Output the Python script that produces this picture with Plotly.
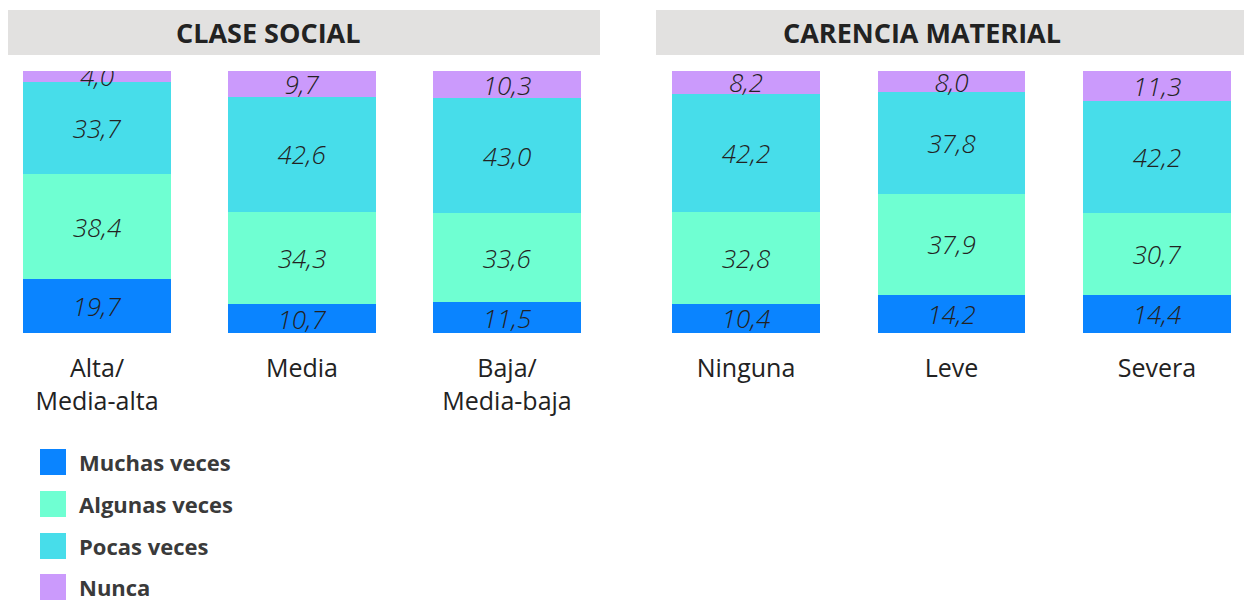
import plotly.graph_objects as go

# ---- data ----
panel_titles = ["CLASE SOCIAL", "CARENCIA MATERIAL"]
cats_clase = ["Alta/<br>Media-alta", "Media", "Baja/<br>Media-baja"]
cats_carencia = ["Ninguna", "Leve", "Severa"]
series = ["Muchas veces", "Algunas veces", "Pocas veces", "Nunca"]
colors = ["#0A84FF", "#6FFFD2", "#47DDEA", "#CB9AFC"]

clase_muchas = [19.7, 10.7, 11.5]
clase_algunas = [38.4, 34.3, 33.6]
clase_pocas = [33.7, 42.6, 43.0]
clase_nunca = [4.0, 9.7, 10.3]

carencia_muchas = [10.4, 14.2, 14.4]
carencia_algunas = [32.8, 37.9, 30.7]
carencia_pocas = [42.2, 37.8, 42.2]
carencia_nunca = [8.2, 8.0, 11.3]

panels = [
    (cats_clase, [clase_muchas, clase_algunas, clase_pocas, clase_nunca]),
    (cats_carencia, [carencia_muchas, carencia_algunas, carencia_pocas, carencia_nunca]),
]

W, H = 1244, 603
TXT = "#222222"
FONT = "Open Sans"


def px(x):
    return min(max(x / W, 0), 1)


def py(y):
    return min(max(1 - y / H, 0), 1)


fig = go.Figure()
for p, (cats, vals) in enumerate(panels):
    xa = "x" if p == 0 else "x2"
    ya = "y" if p == 0 else "y2"
    for s, name in enumerate(series):
        fig.add_trace(go.Bar(
            x=list(range(len(cats))), y=vals[s], name=name,
            marker=dict(color=colors[s], line=dict(width=0)),
            width=0.72,
            text=vals[s], texttemplate="%{text:.1f}",
            textposition="inside", insidetextanchor="middle",
            textangle=0, constraintext="none",
            textfont=dict(family=FONT, size=26, color=TXT, style="italic", weight=300),
            xaxis=xa, yaxis=ya, showlegend=False, hoverinfo="skip",
        ))

R0, R1 = -0.42, 2.42
ydom = [py(333), py(71)]
axis_common = dict(showgrid=False, zeroline=False, showline=False, ticks="",
                   tickfont=dict(family=FONT, size=25, color=TXT),
                   ticklabelstandoff=18, fixedrange=True)
fig.update_layout(
    width=W, height=H,
    margin=dict(l=0, r=0, t=0, b=0),
    paper_bgcolor="white", plot_bgcolor="white",
    barmode="stack", barnorm="percent",
    separators=",.",
    uniformtext=dict(minsize=26, mode="show"),
    xaxis=dict(domain=[px(97 + R0 * 205), px(97 + R1 * 205)], range=[R0, R1],
               tickvals=list(range(3)), ticktext=cats_clase, anchor="y", **axis_common),
    xaxis2=dict(domain=[px(746 + R0 * 205.5), px(746 + R1 * 205.5)], range=[R0, R1],
                tickvals=list(range(3)), ticktext=cats_carencia, anchor="y2", **axis_common),
    yaxis=dict(domain=ydom, range=[0, 100], visible=False, anchor="x", fixedrange=True),
    yaxis2=dict(domain=ydom, range=[0, 100], visible=False, anchor="x2", fixedrange=True),
    showlegend=False,
)

# panel headers
boxes = [(8, 600, 268), (656, 1244, 922)]
for (x0, x1, xc), title in zip(boxes, panel_titles):
    fig.add_shape(type="rect", xref="paper", yref="paper",
                  x0=px(x0), x1=px(x1), y0=py(55), y1=py(10),
                  fillcolor="#E2E1E0", line=dict(width=0), layer="below")
    fig.add_annotation(xref="paper", yref="paper", x=px(xc), y=py(33),
                       text=title, showarrow=False, xanchor="center", yanchor="middle",
                       font=dict(family=FONT, size=27, color=TXT, weight="bold"))

# legend
leg_y = [462, 504, 546, 587]
for name, col, yy in zip(series, colors, leg_y):
    fig.add_shape(type="rect", xref="paper", yref="paper",
                  x0=px(40), x1=px(66), y0=py(yy + 13), y1=py(yy - 13),
                  fillcolor=col, line=dict(width=0))
    fig.add_annotation(xref="paper", yref="paper", x=px(77), y=py(yy),
                       text=name, showarrow=False, xanchor="left", yanchor="middle",
                       font=dict(family=FONT, size=22, color="#3A3A3A", weight="bold"))

fig.write_html("out.html", config={"displayModeBar": False},
               post_script="document.body.style.margin='0';document.body.style.overflow='hidden';")
